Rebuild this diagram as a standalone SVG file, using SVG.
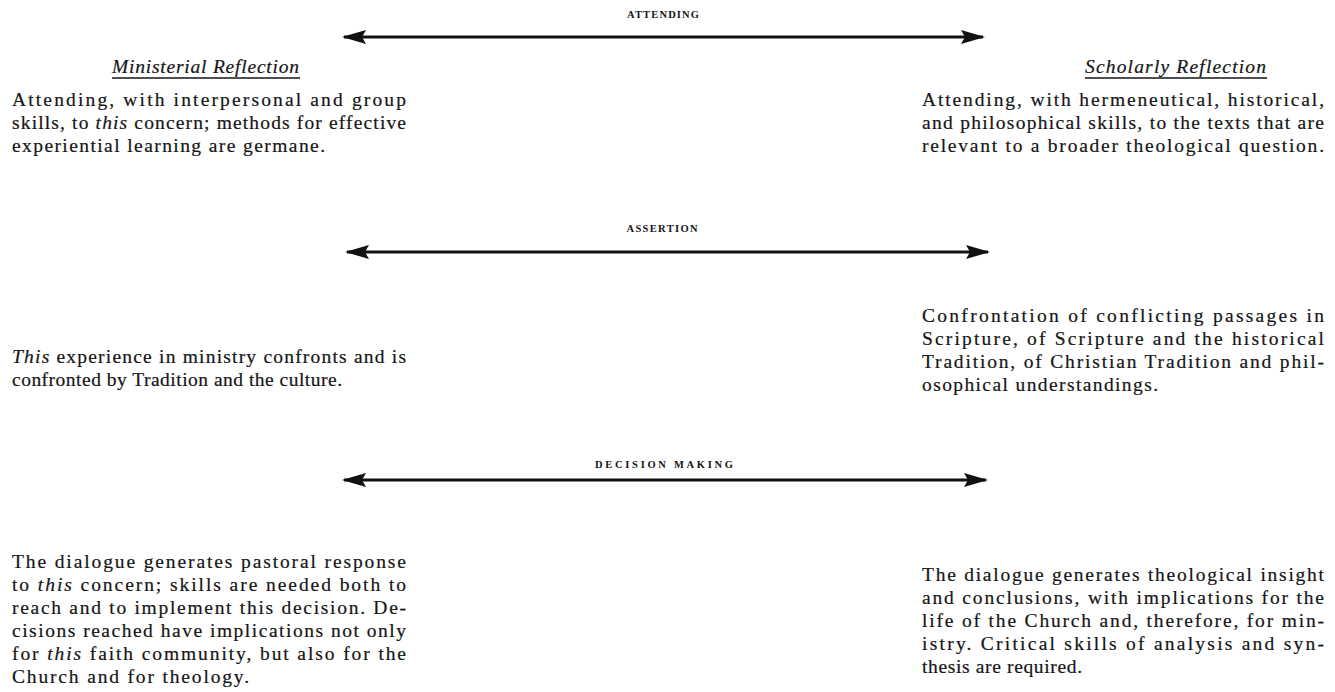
<svg xmlns="http://www.w3.org/2000/svg" width="1335" height="692" viewBox="0 0 1335 692">
<defs>
<style>
.t{font-family:"Liberation Serif","Times New Roman",serif;font-size:19.5px;fill:#151515;stroke:#151515;stroke-width:0.2}
.h{font-family:"Liberation Serif","Times New Roman",serif;font-size:19.5px;font-style:italic;fill:#151515;stroke:#151515;stroke-width:0.2}
.lab{font-family:"Liberation Serif","Times New Roman",serif;font-size:10.5px;font-weight:bold;fill:#151515;text-anchor:middle}
.i{font-style:italic}
.conn{stroke:#111;stroke-width:3;fill:none}
.ul{stroke:#151515;stroke-width:1.6}
</style>
<marker id="ah" viewBox="0 0 24 14" refX="22" refY="7" markerWidth="24" markerHeight="14" markerUnits="userSpaceOnUse" orient="auto-start-reverse">
<path d="M0,0 L24,7 L0,14 L4,7 Z" fill="#111"/>
</marker>
</defs>
<rect width="1335" height="692" fill="#fff"/>

<g id="connectors">
<line class="conn" x1="344" y1="37" x2="983" y2="37" marker-start="url(#ah)" marker-end="url(#ah)"/>
<line class="conn" x1="347" y1="252" x2="988" y2="252" marker-start="url(#ah)" marker-end="url(#ah)"/>
<line class="conn" x1="344" y1="480" x2="986" y2="480" marker-start="url(#ah)" marker-end="url(#ah)"/>
</g>

<g id="label-attending"><text class="lab" x="663" y="18" textLength="72">ATTENDING</text></g>
<g id="label-assertion"><text class="lab" x="662" y="232" textLength="71">ASSERTION</text></g>
<g id="label-decision"><text class="lab" x="664" y="468" textLength="138">DECISION MAKING</text></g>

<g id="heading-ministerial">
<text class="h" x="112" y="73" textLength="187">Ministerial Reflection</text>
<line class="ul" x1="112" y1="78" x2="300" y2="78"/>
</g>
<g id="heading-scholarly">
<text class="h" x="1085" y="73" textLength="181">Scholarly Reflection</text>
<line class="ul" x1="1085" y1="78" x2="1267" y2="78"/>
</g>

<g id="ministerial-attending">
<text class="t" x="12" y="106" textLength="394" lengthAdjust="spacing">Attending, with interpersonal and group</text>
<text class="t" x="12" y="129" textLength="394" lengthAdjust="spacing">skills, to <tspan class="i">this</tspan> concern; methods for effective</text>
<text class="t" x="12" y="152" textLength="313" lengthAdjust="spacing">experiential learning are germane.</text>
</g>

<g id="scholarly-attending">
<text class="t" x="922" y="106" textLength="402" lengthAdjust="spacing">Attending, with hermeneutical, historical,</text>
<text class="t" x="922" y="129" textLength="402" lengthAdjust="spacing">and philosophical skills, to the texts that are</text>
<text class="t" x="922" y="152" textLength="402" lengthAdjust="spacing">relevant to a broader theological question.</text>
</g>

<g id="ministerial-assertion">
<text class="t" x="12" y="363" textLength="394" lengthAdjust="spacing"><tspan class="i">This</tspan> experience in ministry confronts and is</text>
<text class="t" x="12" y="386" textLength="330" lengthAdjust="spacing">confronted by Tradition and the culture.</text>
</g>

<g id="scholarly-assertion">
<text class="t" x="922" y="322" textLength="402" lengthAdjust="spacing">Confrontation of conflicting passages in</text>
<text class="t" x="922" y="345" textLength="402" lengthAdjust="spacing">Scripture, of Scripture and the historical</text>
<text class="t" x="922" y="368" textLength="402" lengthAdjust="spacing">Tradition, of Christian Tradition and phil-</text>
<text class="t" x="922" y="391" textLength="236" lengthAdjust="spacing">osophical understandings.</text>
</g>

<g id="ministerial-decision">
<text class="t" x="12" y="568" textLength="394" lengthAdjust="spacing">The dialogue generates pastoral response</text>
<text class="t" x="12" y="591" textLength="394" lengthAdjust="spacing">to <tspan class="i">this</tspan> concern; skills are needed both to</text>
<text class="t" x="12" y="614" textLength="394" lengthAdjust="spacing">reach and to implement this decision. De-</text>
<text class="t" x="12" y="637" textLength="394" lengthAdjust="spacing">cisions reached have implications not only</text>
<text class="t" x="12" y="660" textLength="394" lengthAdjust="spacing">for <tspan class="i">this</tspan> faith community, but also for the</text>
<text class="t" x="12" y="683" textLength="237" lengthAdjust="spacing">Church and for theology.</text>
</g>

<g id="scholarly-decision">
<text class="t" x="922" y="581" textLength="402" lengthAdjust="spacing">The dialogue generates theological insight</text>
<text class="t" x="922" y="604" textLength="402" lengthAdjust="spacing">and conclusions, with implications for the</text>
<text class="t" x="922" y="627" textLength="402" lengthAdjust="spacing">life of the Church and, therefore, for min-</text>
<text class="t" x="922" y="650" textLength="402" lengthAdjust="spacing">istry. Critical skills of analysis and syn-</text>
<text class="t" x="922" y="673" textLength="160" lengthAdjust="spacing">thesis are required.</text>
</g>
</svg>
